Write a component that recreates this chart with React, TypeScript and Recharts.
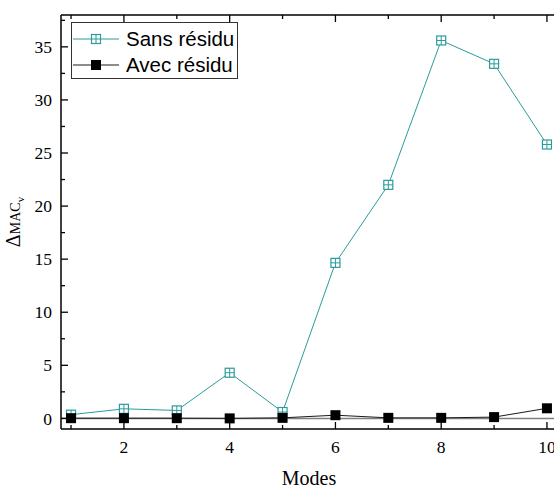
import React from 'react';
import { LineChart, Line, XAxis, YAxis, ReferenceLine, Legend } from 'recharts';

// valeurs
const modes = [1, 2, 3, 4, 5, 6, 7, 8, 9, 10];
const sansResidu = [0.35, 0.9, 0.75, 4.3, 0.6, 14.65, 22.0, 35.6, 33.4, 25.8];
const avecResidu = [0.02, 0.02, 0.02, 0.0, 0.05, 0.3, 0.05, 0.05, 0.12, 0.95];

const xTicks = [1, 2, 3, 4, 5, 6, 7, 8, 9, 10];
const xLabels = [2, 4, 6, 8, 10];
const yTicks = [0, 2.5, 5, 7.5, 10, 12.5, 15, 17.5, 20, 22.5, 25, 27.5, 30, 32.5, 35, 37.5];
const yLabels = [0, 5, 10, 15, 20, 25, 30, 35];

const TEAL = '#2b9b9b';
const SERIF = 'Liberation Serif';
const SANS = 'Liberation Sans';

const data = modes.map((m, i) => ({ mode: m, sans: sansResidu[i], avec: avecResidu[i] }));

const OpenSquare = ({ cx, cy, size = 9 }: any) => {
  const h = size / 2;
  return (
    <g>
      <rect x={cx - h} y={cy - h} width={size} height={size} fill="#fff" stroke={TEAL} strokeWidth={1.2} />
      <line x1={cx - h} y1={cy} x2={cx + h} y2={cy} stroke={TEAL} strokeWidth={1} />
      <line x1={cx} y1={cy - h} x2={cx} y2={cy + h} stroke={TEAL} strokeWidth={1} />
    </g>
  );
};

const FilledSquare = ({ cx, cy, size = 10 }: any) => (
  <rect x={cx - size / 2} y={cy - size / 2} width={size} height={size} fill="#000" />
);

// ticks vers l'intérieur, style Origin
const BottomTick = ({ x, y, payload }: any) => {
  const major = xLabels.includes(payload.value);
  return (
    <g>
      <line x1={x} y1={y} x2={x} y2={y - (major ? 7 : 4)} stroke="#000" strokeWidth={1.3} />
      {major && (
        <text x={x} y={y + 24} textAnchor="middle" fontFamily={SERIF} fontSize={17.5} style={{ fontFamily: SERIF }} fill="#000">
          {payload.value}
        </text>
      )}
    </g>
  );
};

const TopTick = ({ x, y, payload }: any) => {
  const major = xLabels.includes(payload.value);
  return <line x1={x} y1={y} x2={x} y2={y + (major ? 7 : 4)} stroke="#000" strokeWidth={1.3} />;
};

const LeftTick = ({ x, y, payload }: any) => {
  const major = yLabels.includes(payload.value);
  return (
    <g>
      <line x1={x} y1={y} x2={x + (major ? 7 : 4)} y2={y} stroke="#000" strokeWidth={1.3} />
      {major && (
        <text x={x - 9} y={y} dy="0.35em" textAnchor="end" fontFamily={SERIF} fontSize={17.5} style={{ fontFamily: SERIF }} fill="#000">
          {payload.value}
        </text>
      )}
    </g>
  );
};

const RightTick = ({ x, y, payload }: any) => {
  const major = yLabels.includes(payload.value);
  return <line x1={x} y1={y} x2={x - (major ? 7 : 4)} y2={y} stroke="#000" strokeWidth={1.3} />;
};

const YTitle = ({ viewBox }: any) => {
  const cx = 20;
  const cy = viewBox.y + viewBox.height / 2;
  return (
    <text transform={`translate(${cx},${cy}) rotate(-90)`} textAnchor="middle" fontFamily={SERIF} style={{ fontFamily: SERIF }} fill="#000">
      <tspan fontSize={20}>Δ</tspan>
      <tspan fontSize={14}>MAC</tspan>
      <tspan fontSize={11} dy={4}>v</tspan>
    </text>
  );
};

const XTitle = ({ viewBox }: any) => (
  <text x={viewBox.x + viewBox.width / 2} y={viewBox.y + 56} textAnchor="middle" fontFamily={SERIF} fontSize={20} style={{ fontFamily: SERIF }} fill="#000">
    Modes
  </text>
);

const LegendBox = () => (
  <svg width={167} height={57} style={{ display: 'block' }}>
    <rect x={0.5} y={0.5} width={166} height={56} fill="#fff" stroke="#333" strokeWidth={1} />
    <line x1={2} y1={17} x2={48} y2={17} stroke={TEAL} strokeWidth={1} />
    <OpenSquare cx={25} cy={17} />
    <text x={55} y={17} dy="0.35em" fontFamily={SANS} fontSize={20.5} fill="#000">Sans résidu</text>
    <line x1={2} y1={43} x2={48} y2={43} stroke="#1a1a1a" strokeWidth={1} />
    <FilledSquare cx={25} cy={43} />
    <text x={55} y={43} dy="0.35em" fontFamily={SANS} fontSize={20.5} fill="#000">Avec résidu</text>
  </svg>
);

const App: React.FC = () => {
  return (
    <div style={{ position: 'absolute', left: 0, top: 0, width: 554, height: 488, overflow: 'hidden', background: '#fff' }}>
      <LineChart width={560} height={488} data={data} margin={{ top: 14, right: 2, bottom: 58, left: 0 }}>
        <XAxis
          xAxisId="bottom"
          dataKey="mode"
          type="number"
          domain={[0.81, 10.19]}
          ticks={xTicks}
          interval={0}
          height={1}
          tickLine={false}
          tickSize={0}
          tickMargin={0}
          tick={<BottomTick />}
          axisLine={{ stroke: '#000', strokeWidth: 1.5 }}
          label={<XTitle />}
        />
        <XAxis
          xAxisId="top"
          orientation="top"
          dataKey="mode"
          type="number"
          domain={[0.81, 10.19]}
          ticks={xTicks}
          interval={0}
          height={1}
          tickLine={false}
          tickSize={0}
          tickMargin={0}
          tick={<TopTick />}
          axisLine={{ stroke: '#000', strokeWidth: 1.5 }}
        />
        <YAxis
          yAxisId="left"
          type="number"
          domain={[-1, 38]}
          ticks={yTicks}
          interval={0}
          width={61}
          tickLine={false}
          tickSize={0}
          tickMargin={0}
          tick={<LeftTick />}
          axisLine={{ stroke: '#000', strokeWidth: 1.5 }}
          label={<YTitle />}
        />
        <YAxis
          yAxisId="right"
          orientation="right"
          type="number"
          domain={[-1, 38]}
          ticks={yTicks}
          interval={0}
          width={1}
          tickLine={false}
          tickSize={0}
          tickMargin={0}
          tick={<RightTick />}
          axisLine={{ stroke: '#000', strokeWidth: 1.5 }}
        />
        <ReferenceLine xAxisId="bottom" yAxisId="left" y={0} stroke="#7f7f7f" strokeWidth={1.5} />
        <Line
          xAxisId="bottom"
          yAxisId="left"
          dataKey="sans"
          name="Sans résidu"
          stroke={TEAL}
          strokeWidth={1}
          isAnimationActive={false}
          dot={(p: any) => <OpenSquare key={`s-${p.index}`} cx={p.cx} cy={p.cy} />}
        />
        <Line
          xAxisId="bottom"
          yAxisId="left"
          dataKey="avec"
          name="Avec résidu"
          stroke="#1a1a1a"
          strokeWidth={1}
          isAnimationActive={false}
          dot={(p: any) => <FilledSquare key={`a-${p.index}`} cx={p.cx} cy={p.cy} />}
        />
        <Legend
          layout="horizontal"
          verticalAlign="middle"
          align="center"
          content={<LegendBox />}
          wrapperStyle={{ position: 'absolute', left: 71, top: 22, width: 167, height: 57 }}
        />
      </LineChart>
    </div>
  );
};

export default App;
